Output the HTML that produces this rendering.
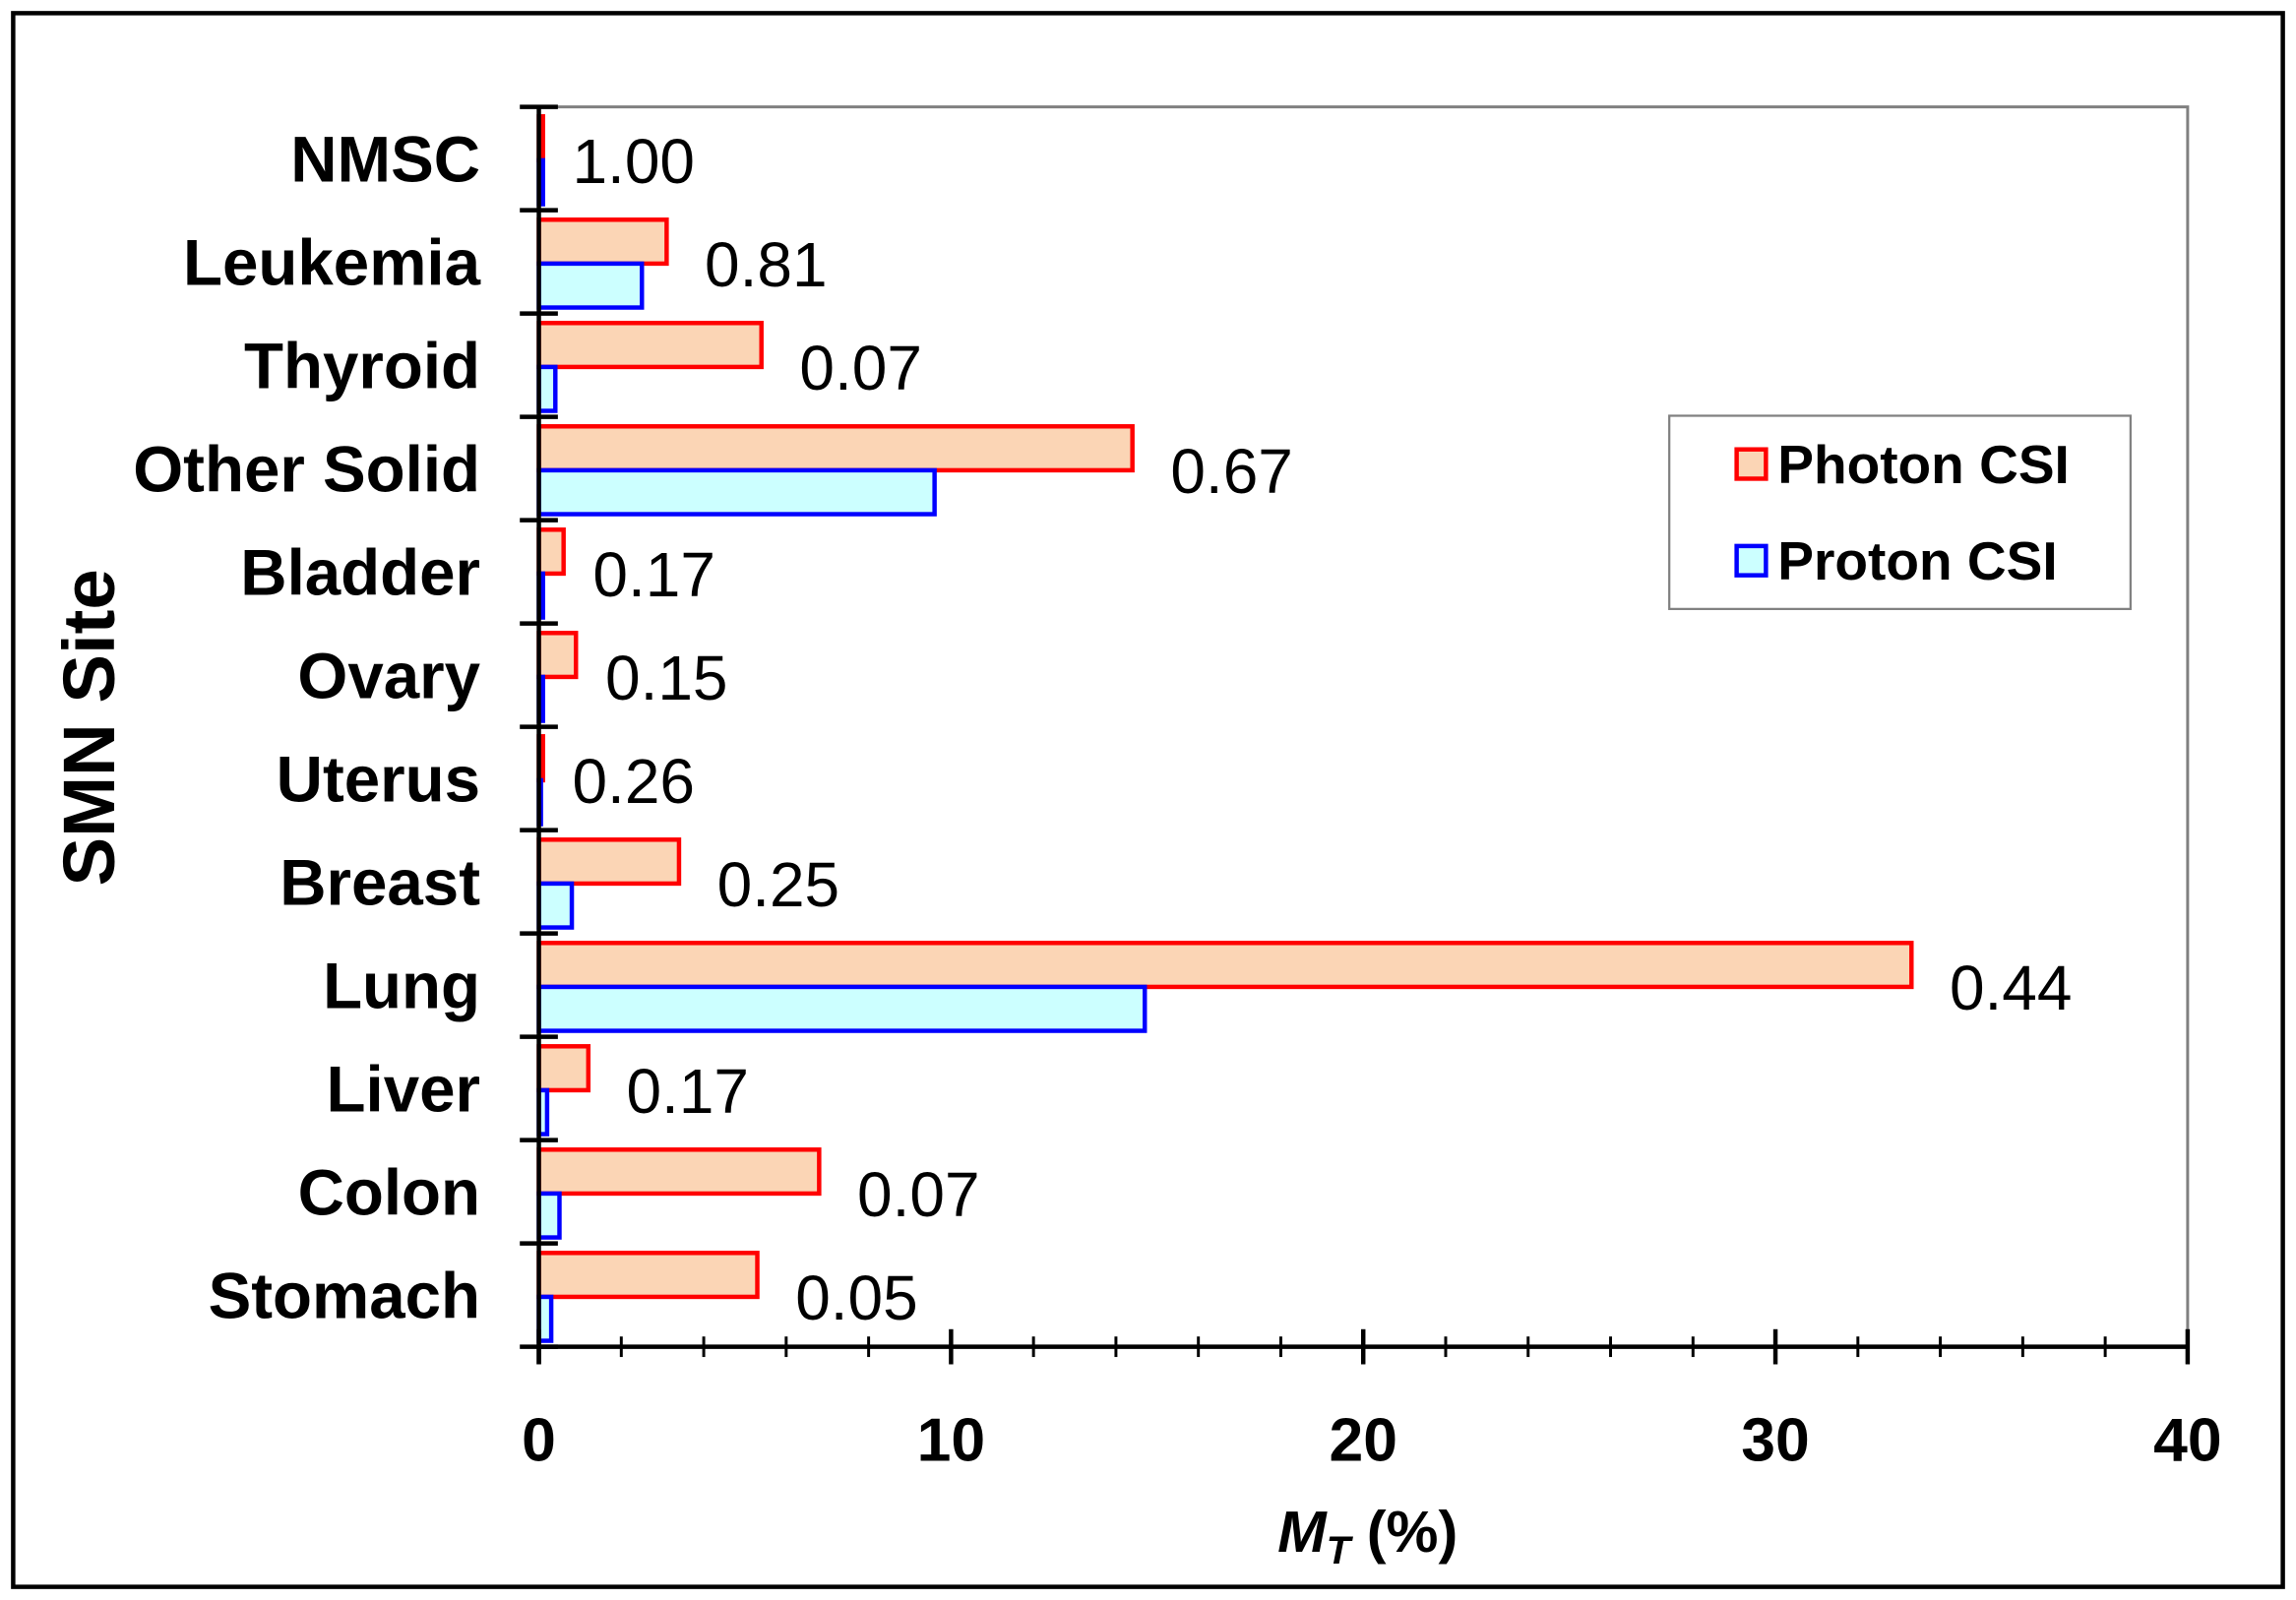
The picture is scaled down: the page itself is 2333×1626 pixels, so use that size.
<!DOCTYPE html>
<html><head><meta charset="utf-8"><style>
html,body{margin:0;padding:0;background:#fff;}
svg{display:block;}
text{font-family:"Liberation Sans",Arial,sans-serif;}
</style></head><body>
<svg id="chart" width="2333" height="1626" viewBox="0 0 1568 1093" preserveAspectRatio="none" xmlns="http://www.w3.org/2000/svg">
<rect x="9" y="9" width="1550" height="1075" fill="#fff" stroke="#000" stroke-width="3"/>
<g id="plot"></g>
</svg>
<script>
const categories=["NMSC","Leukemia","Thyroid","Other Solid","Bladder","Ovary","Uterus","Breast","Lung","Liver","Colon","Stomach"];
const photonValues=[0.1,3.1,5.4,14.4,0.6,0.9,0.1,3.4,33.3,1.2,6.8,5.3];
const protonValues=[0.1,2.5,0.4,9.6,0.1,0.1,0.05,0.8,14.7,0.2,0.5,0.3];
const ratioLabels=["1.00","0.81","0.07","0.67","0.17","0.15","0.26","0.25","0.44","0.17","0.07","0.05"];
const xTicks=[0,10,20,30,40];
const NS="http://www.w3.org/2000/svg";
const g=document.getElementById('plot');
const X0=368,X1=1494,Y0=73,Y1=920,xMax=40;
const band=(Y1-Y0)/categories.length;
function xs(v){return X0+v/xMax*(X1-X0);}
function bandTop(i){return Y0+i*band;}
function mk(t,a,txt){const e=document.createElementNS(NS,t);for(const k in a)e.setAttribute(k,a[k]);if(txt!==undefined)e.textContent=txt;g.appendChild(e);return e;}
let fr=mk('path',{d:`M${X0},${Y0}H${X1}V${Y1}`,fill:'none',stroke:'#808080','stroke-width':2});


categories.forEach((c,i)=>{
  const t=bandTop(i);
  let b=mk('rect',{x:X0,y:t+6.5,width:Math.max(xs(photonValues[i])-X0,1),height:30,fill:'#fbd5b5',stroke:'#f00','stroke-width':3});
  
  
  let p=mk('rect',{x:X0,y:t+36.5,width:Math.max(xs(protonValues[i])-X0,1),height:30,fill:'#ccffff',stroke:'#00f','stroke-width':3});
  
  
  let l=mk('text',{x:328,y:t+51,'text-anchor':'end','font-size':44,'font-weight':'bold'},c);
  
  
  const mx=Math.max(photonValues[i],protonValues[i]);
  let r=mk('text',{x:xs(mx)+(mx<1?20:26),y:t+52,'font-size':43},ratioLabels[i]);
  
  
});
for(let i=0;i<=categories.length;i++){
  let tk=mk('line',{x1:355,x2:381,y1:bandTop(i),y2:bandTop(i),stroke:'#000','stroke-width':3});
  
  
}
let ya=mk('line',{x1:X0,x2:X0,y1:Y0,y2:Y1+12,stroke:'#000','stroke-width':3});


let xa=mk('line',{x1:X0,x2:X1,y1:Y1,y2:Y1,stroke:'#000','stroke-width':3});


for(let v=0;v<=xMax;v+=2){
  let m=mk('line',{x1:xs(v),x2:xs(v),y1:Y1-7,y2:Y1+7,stroke:'#000','stroke-width':2});
  
  
}
xTicks.forEach(v=>{
  let m=mk('line',{x1:xs(v),x2:xs(v),y1:Y1-12,y2:Y1+12,stroke:'#000','stroke-width':3});
  
  
  let t=mk('text',{x:xs(v),y:998,'text-anchor':'middle','font-size':42,'font-weight':'bold'},String(v));
  
  
});
let xt=mk('text',{x:934,y:1060,'text-anchor':'middle','font-size':40,'font-weight':'bold','font-style':'italic'});
xt.innerHTML='M<tspan font-size="27" dy="8">T</tspan><tspan dy="-8" font-style="normal"> (%)</tspan>';


let yt=mk('text',{x:0,y:0,'text-anchor':'middle','font-size':50,'font-weight':'bold',transform:'translate(78,497) rotate(-90)'},'SMN Site');


let lg=mk('rect',{x:1140,y:284,width:315,height:132,fill:'#fff',stroke:'#808080','stroke-width':1.5});


[["Photon CSI",'#fbd5b5','#f00',317],["Proton CSI",'#ccffff','#00f',383]].forEach(e=>{
  let s=mk('rect',{x:1186,y:e[3]-10,width:20,height:20,fill:e[1],stroke:e[2],'stroke-width':3});
  
  
  let t=mk('text',{x:1214,y:e[3]+13,'font-size':37,'font-weight':'bold'},e[0]);
  
  
});
</script>
</body></html>
